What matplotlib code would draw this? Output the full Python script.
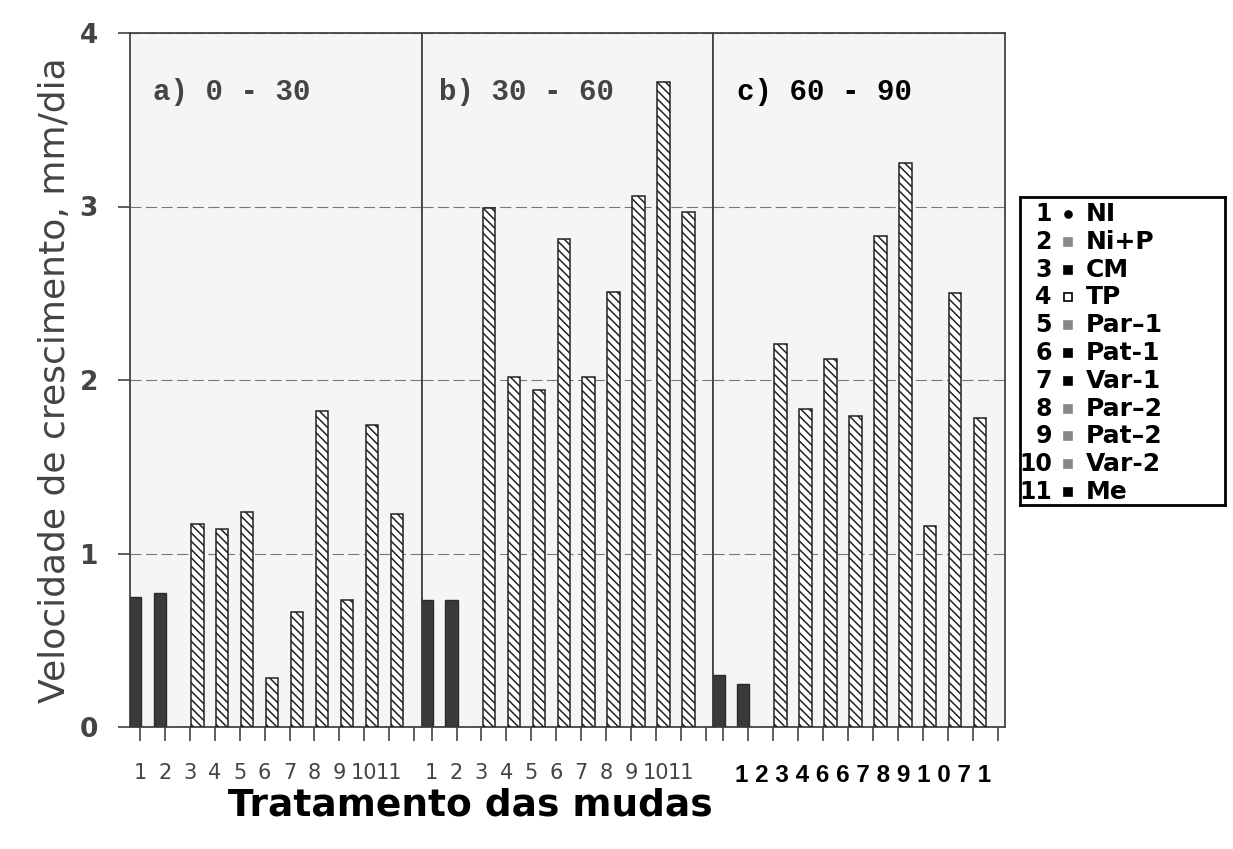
import numpy as np
import matplotlib.pyplot as plt

# ── Données ──────────────────────────────────────────────────────────────────
tratamentos = list(range(1, 12))
periodos = ['a) 0 - 30', 'b) 30 - 60', 'c) 60 - 90']

vel_0_30 = [0.75, 0.77, 1.17, 1.14, 1.24, 0.28, 0.66, 1.82, 0.73, 1.74, 1.23]
vel_30_60 = [0.73, 0.73, 2.99, 2.02, 1.94, 2.81, 2.02, 2.51, 3.06, 3.72, 2.97]
vel_60_90 = [0.30, 0.25, 2.21, 1.83, 2.12, 1.79, 2.83, 3.25, 1.16, 2.50, 1.78]

ticks_ab = ['1', '2', '3', '4', '5', '6', '7', '8', '9', '10', '11', '']
ticks_c = '1 2 3 4 6 6 7 8 9 1 0 7 1'

leg_num = ['1', '2', '3', '4', '5', '6', '7', '8', '9', '10', '11']
leg_label = ['NI', 'Ni+P', 'CM', 'TP', 'Par–1', 'Pat-1', 'Var-1',
             'Par–2', 'Pat–2', 'Var-2', 'Me']

# styles de la légende (séparés des données)
leg_marker = ['o', 's', 's', 's', 's', 's', 's', 's', 's', 's', 's']
leg_face = ['k', '#888', 'k', 'white', '#888', 'k', 'k', '#888', '#888', '#888', 'k']

series = [vel_0_30, vel_30_60, vel_60_90]

# ── Figure ───────────────────────────────────────────────────────────────────
plt.rcParams['hatch.linewidth'] = 1.1
fig = plt.figure(figsize=(12.33, 8.49), dpi=100)

W, H = 1233, 849
left, right = 130, 1005
top, bottom = 33, 727
pw = (right - left) / 3

for k in range(3):
    ax = fig.add_axes([(left + k * pw) / W, 1 - bottom / H, pw / W, (bottom - top) / H])
    vals = series[k]
    x = np.array(tratamentos, dtype=float)
    # 1 et 2 : barres pleines, 3..11 : barres hachurées
    ax.bar(x[:2] - 0.2, vals[:2], width=0.5, color='#3a3a3a', edgecolor='#2a2a2a', zorder=3)
    ax.bar(x[2:] + 0.3, vals[2:], width=0.5, color='white', edgecolor='#222',
           hatch='\\\\\\\\', lw=1.1, zorder=3)

    ax.set_facecolor('#f5f5f5')
    ax.set_xlim(0.6, 12.3)
    ax.set_ylim(0, 4)
    ax.set_yticks([0, 1, 2, 3, 4])
    ax.yaxis.grid(True, color='#777', lw=0.8, ls=(0, (10, 4)), zorder=0)
    ax.set_xticks(np.arange(1, 13))
    if k < 2:
        ax.set_xticklabels(ticks_ab, fontsize=15, color='#444')
    else:
        ax.set_xticklabels([''] * 12)
    ax.tick_params(axis='x', direction='out', length=10, width=1.2, color='#444', pad=16)
    for s in ax.spines.values():
        s.set_color('#444')
        s.set_linewidth(1.3)
    if k == 0:
        ax.set_yticklabels(['0', '1', '2', '3', '4'], fontsize=19,
                           color='#444', fontweight='bold')
        ax.tick_params(axis='y', direction='out', length=9, width=1.2, color='#444', pad=14)
    else:
        ax.tick_params(axis='y', left=False, labelleft=False)
    ax.text(0.08 if k != 1 else 0.06, 0.915, periodos[k], transform=ax.transAxes,
            fontsize=21, family='Liberation Mono', fontweight='bold',
            color='#444' if k < 2 else 'black', va='center')

fig.text(55 / W, 1 - 380 / H, 'Velocidade de crescimento, mm/dia', rotation=90,
         fontsize=26, color='#444', ha='center', va='center')

# étiquettes du panneau c
fig.text(735 / W, 1 - 775 / H, ticks_c, fontsize=17.5, fontweight='bold',
         family='Liberation Sans', va='center', ha='left')

fig.text(470 / W, 1 - 805 / H, 'Tratamento das mudas', fontsize=27,
         fontweight='bold', ha='center', va='center')

# ── Légende ──────────────────────────────────────────────────────────────────
lg = fig.add_axes([1020 / W, 1 - 505 / H, 205 / W, 308 / H])
lg.set_xlim(0, 1)
lg.set_ylim(0, 1)
lg.set_xticks([])
lg.set_yticks([])
for s in lg.spines.values():
    s.set_linewidth(2)
for i in range(len(leg_num)):
    yy = 1 - (17 + 27.8 * i) / 308
    lg.text(0.155, yy, leg_num[i], ha='right', va='center', fontsize=17, fontweight='bold')
    lg.plot(0.235, yy, marker=leg_marker[i], ms=5 if leg_marker[i] == 'o' else 6,
            mfc=leg_face[i], mec='k' if leg_face[i] != '#888' else '#888', mew=1.2)
    lg.text(0.32, yy, leg_label[i], ha='left', va='center', fontsize=18, fontweight='bold')

plt.savefig('out.png', dpi=100)
